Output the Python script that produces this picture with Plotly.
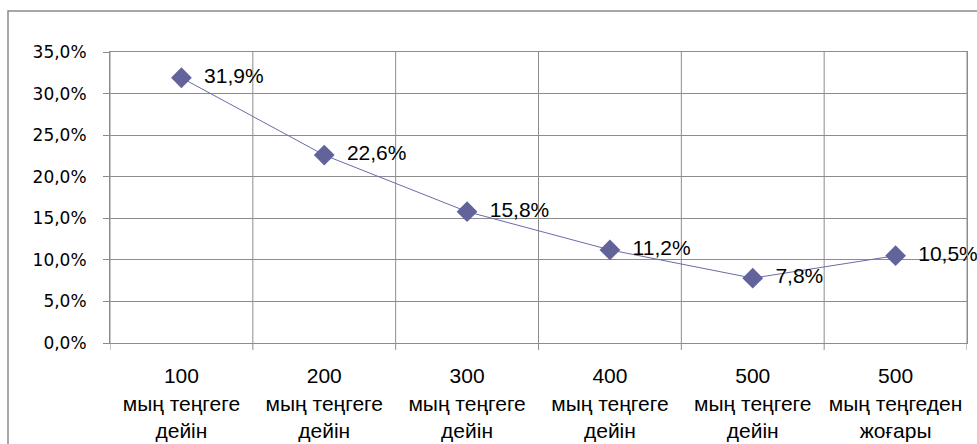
import plotly.graph_objects as go

categories = [
    "100<br>мың теңгеге<br>дейін",
    "200<br>мың теңгеге<br>дейін",
    "300<br>мың теңгеге<br>дейін",
    "400<br>мың теңгеге<br>дейін",
    "500<br>мың теңгеге<br>дейін",
    "500<br>мың теңгеден<br>жоғары",
]
values = [31.9, 22.6, 15.8, 11.2, 7.8, 10.5]
value_labels = ["31,9%", "22,6%", "15,8%", "11,2%", "7,8%", "10,5%"]
y_tickvals = [0, 5, 10, 15, 20, 25, 30, 35]
y_ticktext = ["0,0%", "5,0%", "10,0%", "15,0%", "20,0%", "25,0%", "30,0%", "35,0%"]

GRID = "#8c8c8c"

fig = go.Figure(
    go.Scatter(
        x=list(range(len(categories))),
        y=values,
        mode="lines+markers+text",
        line=dict(color="#6b6ba8", width=1),
        marker=dict(symbol="diamond", size=16, color="#63639b"),
        text=value_labels,
        texttemplate="  %{text}",
        textposition="middle right",
        textfont=dict(family="Liberation Sans, Arial", size=21, color="#000000"),
        cliponaxis=False,
        hoverinfo="skip",
    )
)

fig.update_layout(
    width=977,
    height=444,
    margin=dict(l=110, r=10, t=52, b=101),
    paper_bgcolor="white",
    plot_bgcolor="white",
    showlegend=False,
    xaxis=dict(
        type="linear",
        range=[-0.5, 5.5],
        tickvals=list(range(len(categories))),
        ticktext=categories,
        showgrid=False,
        showline=True,
        linecolor=GRID,
        mirror=True,
        ticks="",
        automargin=False,
        ticklabelstandoff=14,
        tickfont=dict(family="Liberation Sans, Arial", size=21, color="#000000"),
        zeroline=False,
    ),
    yaxis=dict(
        range=[0, 35],
        tickvals=y_tickvals,
        ticktext=y_ticktext,
        showgrid=True,
        gridcolor=GRID,
        gridwidth=1,
        showline=True,
        linecolor=GRID,
        mirror=True,
        ticks="outside",
        ticklen=6,
        tickcolor=GRID,
        automargin=False,
        ticklabelstandoff=13,
        tickfont=dict(family="DejaVu Sans", size=17, color="#000000"),
        zeroline=False,
    ),
)

# vertical gridlines at category boundaries (extending slightly below the axis as tick marks)
for b in [i + 0.5 for i in range(len(categories) - 1)] + [-0.5, 5.5]:
    fig.add_shape(
        type="line", xref="x", yref="paper",
        x0=b, x1=b, y0=-0.024, y1=1,
        line=dict(color=GRID, width=1), layer="below",
    )

# outer chart border
fig.add_shape(
    type="rect", xref="paper", yref="paper",
    x0=(8 - 110) / 857, x1=(995 - 110) / 857,
    y0=(343 - 470) / 291, y1=(343 - 11) / 291,
    line=dict(color="#8a8a8a", width=1.5), fillcolor="rgba(0,0,0,0)",
)

fig.write_html("out.html", config={"displayModeBar": False})

# remove default page margin so the figure sits at the window origin
with open("out.html", "r", encoding="utf-8") as f:
    html = f.read()
html = html.replace("<head>", "<head><style>html,body{margin:0;padding:0;overflow:hidden}</style>", 1)
with open("out.html", "w", encoding="utf-8") as f:
    f.write(html)
